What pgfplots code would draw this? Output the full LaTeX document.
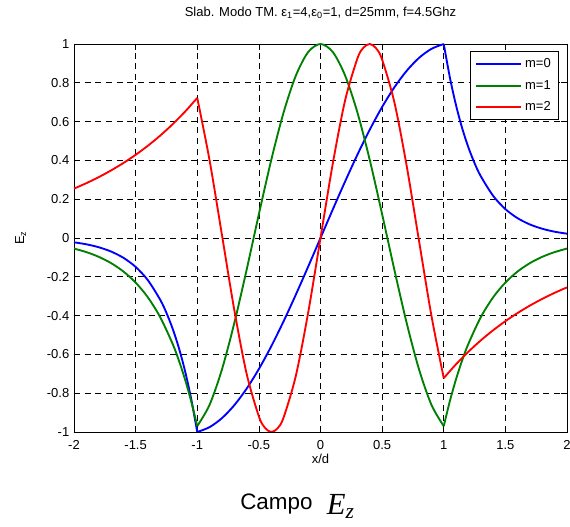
\documentclass[border=0pt]{standalone}
\usepackage{fontspec}
\setmainfont{Liberation Sans}
\newfontfamily\timesfont{Liberation Serif}
\usepackage{pgfplots}
\pgfplotsset{compat=1.18}
\begin{document}
\begin{tikzpicture}
\useasboundingbox (-55.5pt,-71.25pt) rectangle (372pt,324pt);
\begin{axis}[
  at={(0pt,0pt)}, anchor=south west,
  scale only axis, width=369.75pt, height=291pt,
  xmin=-2, xmax=2, ymin=-1, ymax=1,
  xtick={-2,-1.5,-1,-0.5,0,0.5,1,1.5,2},
  ytick={-1,-0.8,-0.6,-0.4,-0.2,0,0.2,0.4,0.6,0.8,1},
  /pgf/number format/assume math mode=true,
  tick label style={font=\fontsize{9.75}{11}\selectfont},
  xticklabel style={anchor=center, yshift=-9.75pt},
  tick align=inside, major tick length=4.5pt,
  tick style={black, line width=0.5pt},
  axis line style={black, line width=0.6pt},
  grid=major,
  grid style={black, line width=0.5pt, dash pattern=on 4.5pt off 3.5pt},
  every axis plot/.append style={line width=1.4pt},
  title={Slab. Modo TM. ε\textsubscript{1}=4,ε\textsubscript{0}=1, d=25mm, f=4.5Ghz},
  title style={at={(0.5,1)}, anchor=base, yshift=14.25pt, font=\fontsize{9.75}{11}\selectfont},
  xlabel={x/d},
  xlabel style={at={(axis description cs:0.5,-0.0696)}, anchor=center, font=\fontsize{9.75}{11}\selectfont},
  ylabel={E\textsubscript{z}},
  ylabel style={at={(axis description cs:-0.108,0.5)}, anchor=center, font=\fontsize{9.75}{11}\selectfont},
  legend style={at={(1,1)}, anchor=north east, xshift=-6pt, yshift=-5.6pt,
    font=\fontsize{9.75}{11}\selectfont, draw=black,
    row sep=4pt, inner xsep=4pt, inner ysep=3pt, cells={anchor=west}},
  legend image code/.code={\draw[#1] (0pt,0pt) -- (33.75pt,0pt);},
]
% m=0 inside
\addplot[blue, smooth] table {
x y
-1 -1
-0.9 -0.97494
-0.8 -0.92871
-0.7 -0.86234
-0.6 -0.77726
-0.5 -0.67532
-0.4 -0.55873
-0.3 -0.43001
-0.2 -0.29197
-0.1 -0.14759
0 0
0.1 0.14759
0.2 0.29197
0.3 0.43001
0.4 0.55873
0.5 0.67532
0.6 0.77726
0.7 0.86234
0.8 0.92871
0.9 0.97494
1 1
};
\addlegendentry{m=0}
% m=1 inside
\addplot[green!50!black, smooth] table {
x y
-1 -0.96984
-0.9 -0.85988
-0.8 -0.67834
-0.7 -0.44033
-0.6 -0.16566
-0.5 0.12280
-0.4 0.40104
-0.3 0.64589
-0.2 0.83697
-0.1 0.95838
0 1
0.1 0.95838
0.2 0.83697
0.3 0.64589
0.4 0.40104
0.5 0.12280
0.6 -0.16566
0.7 -0.44033
0.8 -0.67834
0.9 -0.85988
1 -0.96984
};
\addlegendentry{m=1}
% m=2 inside
\addplot[red, smooth] table {
x y
-1 0.72214
-0.9 0.40048
-0.8 0.01719
-0.7 -0.36874
-0.6 -0.69794
-0.5 -0.91972
-0.45 -0.97885
-0.4 -0.99996
-0.35 -0.98223
-0.3 -0.92633
-0.2 -0.71014
-0.1 -0.38467
0 0
0.1 0.38467
0.2 0.71014
0.3 0.92633
0.35 0.98223
0.4 0.99996
0.45 0.97885
0.5 0.91972
0.6 0.69794
0.7 0.36874
0.8 -0.01719
0.9 -0.40048
1 -0.72214
};
\addlegendentry{m=2}
% m=0 outside
\addplot[blue, smooth, forget plot] table {
x y
-2 -0.02218
-1.9 -0.03246
-1.8 -0.04751
-1.7 -0.06953
-1.6 -0.10176
-1.5 -0.14893
-1.4 -0.21797
-1.3 -0.31900
-1.25 -0.38592
-1.2 -0.46687
-1.15 -0.56480
-1.1 -0.68328
-1.05 -0.82660
-1 -1
};
\addplot[blue, smooth, forget plot] table {
x y
1 1
1.05 0.82660
1.1 0.68328
1.15 0.56480
1.2 0.46687
1.25 0.38592
1.3 0.31900
1.4 0.21797
1.5 0.14893
1.6 0.10176
1.7 0.06953
1.8 0.04751
1.9 0.03246
2 0.02218
};
% m=1 outside
\addplot[green!50!black, smooth, forget plot] table {
x y
-2 -0.05444
-1.9 -0.07261
-1.8 -0.09685
-1.7 -0.12917
-1.6 -0.17228
-1.5 -0.22978
-1.4 -0.30647
-1.3 -0.40876
-1.2 -0.54519
-1.15 -0.62961
-1.1 -0.72715
-1.05 -0.83977
-1 -0.96984
};
\addplot[green!50!black, smooth, forget plot] table {
x y
1 -0.96984
1.05 -0.83977
1.1 -0.72715
1.15 -0.62961
1.2 -0.54519
1.3 -0.40876
1.4 -0.30647
1.5 -0.22978
1.6 -0.17228
1.7 -0.12917
1.8 -0.09685
1.9 -0.07261
2 -0.05444
};
% m=2 outside
\addplot[red, smooth, forget plot] table {
x y
-2 0.25453
-1.9 0.28251
-1.8 0.31356
-1.7 0.34802
-1.6 0.38627
-1.5 0.42873
-1.4 0.47585
-1.3 0.52815
-1.2 0.58620
-1.1 0.65063
-1 0.72214
};
\addplot[red, smooth, forget plot] table {
x y
1 -0.72214
1.1 -0.65063
1.2 -0.58620
1.3 -0.52815
1.4 -0.47585
1.5 -0.42873
1.6 -0.38627
1.7 -0.34802
1.8 -0.31356
1.9 -0.28251
2 -0.25453
};
\end{axis}
\node[anchor=base west, inner sep=0pt, font=\fontsize{16.8}{20}\selectfont] at (124.5pt,-57.75pt) {Campo};
\node[anchor=base west, inner sep=0pt, font=\timesfont\itshape\fontsize{23}{26}\selectfont] at (189.5pt,-61.5pt) {E\textsubscript{z}};
\end{tikzpicture}
\end{document}
